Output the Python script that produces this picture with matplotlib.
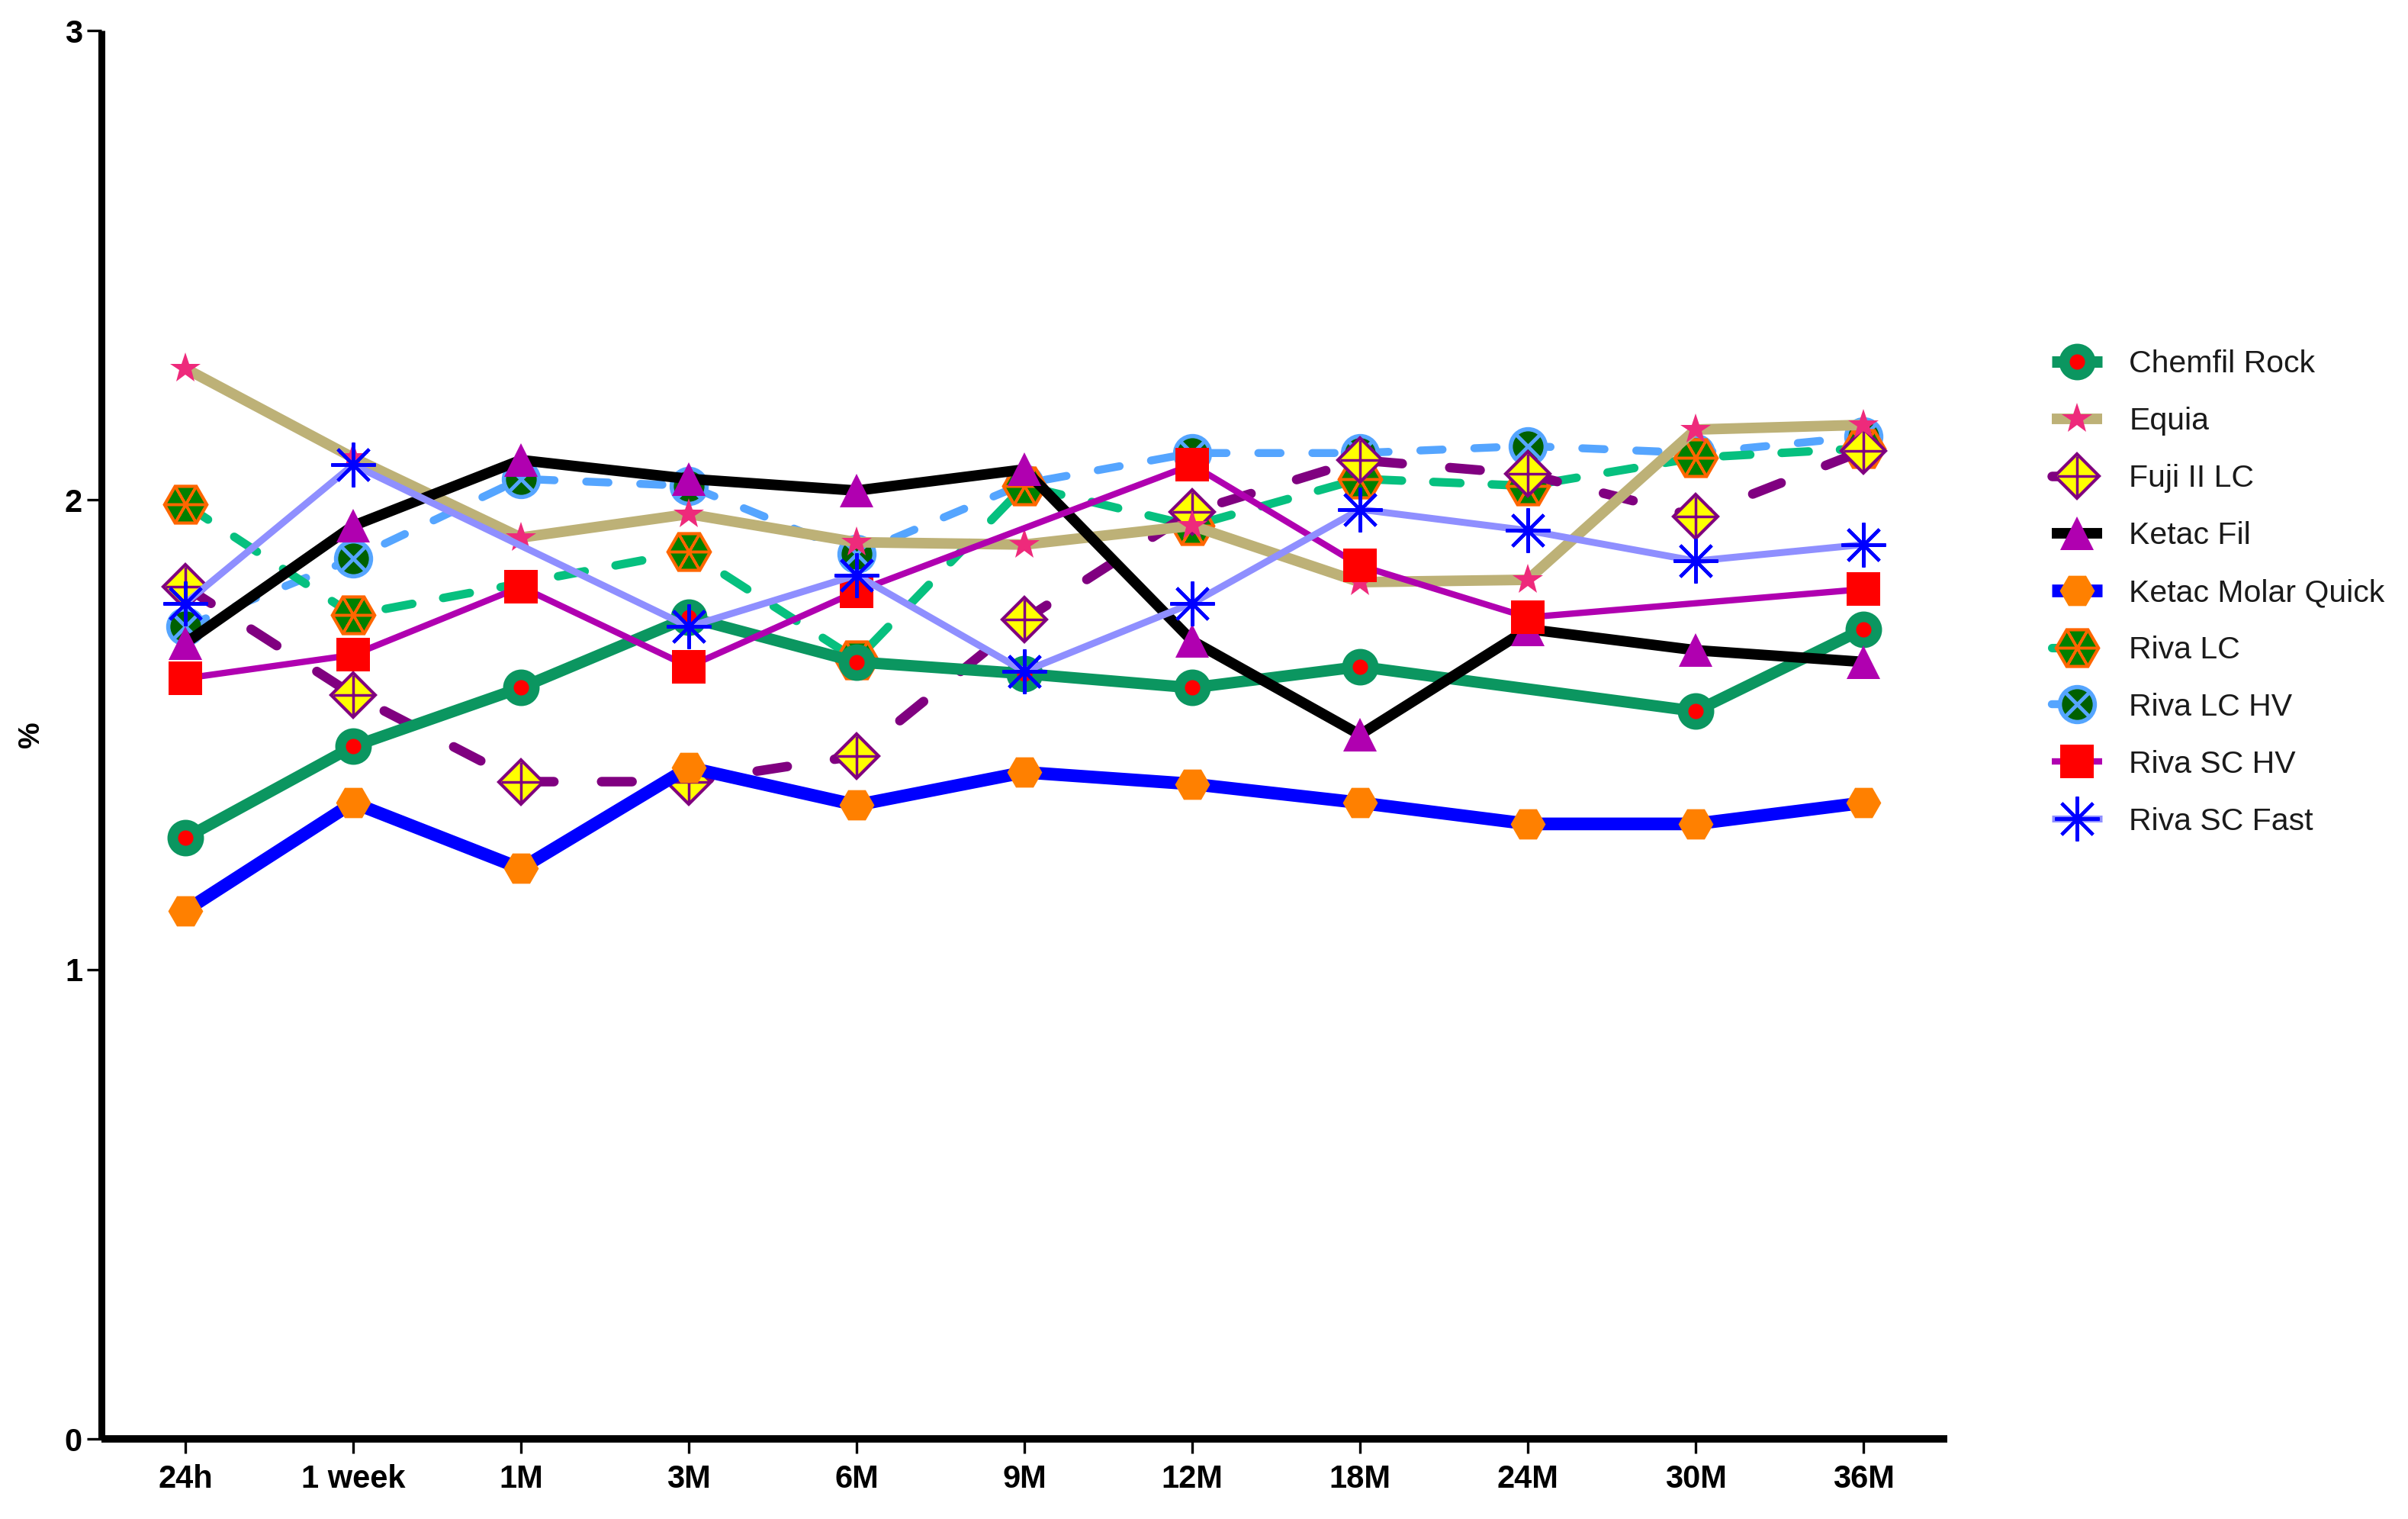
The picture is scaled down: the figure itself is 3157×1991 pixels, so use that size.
import numpy as np
import matplotlib
matplotlib.use("Agg")
import matplotlib.pyplot as plt
from matplotlib.lines import Line2D
from matplotlib.legend_handler import HandlerTuple

plt.rcParams['font.family'] = ['Liberation Sans', 'DejaVu Sans']

nan = np.nan

# ---------------- data ----------------
time_labels = ['24h', '1 week', '1M', '3M', '6M', '9M', '12M', '18M', '24M', '30M', '36M']

chemfil_rock = [1.28, 1.475, 1.60, 1.75, 1.655, 1.63, 1.60, 1.645, nan, 1.55, 1.725]
equia = [2.28, 2.09, 1.92, 1.97, 1.91, 1.905, 1.945, 1.825, 1.83, 2.15, 2.16]
fuji_ii_lc = [1.815, 1.585, 1.40, 1.40, 1.455, 1.745, 1.975, 2.085, 2.055, 1.965, 2.105]
ketac_fil = [1.695, 1.945, 2.085, 2.045, 2.02, 2.065, 1.70, 1.50, 1.725, 1.68, 1.655]
ketac_molar_quick = [1.125, 1.355, 1.215, 1.43, 1.35, 1.42, 1.395, 1.355, 1.31, 1.31, 1.355]
riva_lc = [1.99, 1.755, nan, 1.89, 1.66, 2.03, 1.945, 2.045, 2.03, 2.09, 2.11]
riva_lc_hv = [1.73, 1.875, 2.045, 2.03, 1.885, 2.035, 2.10, 2.10, 2.115, 2.10, 2.135]
riva_sc_hv = [1.62, 1.67, 1.815, 1.645, 1.805, nan, 2.075, 1.86, 1.75, nan, 1.81]
riva_sc_fast = [1.78, 2.075, nan, 1.73, 1.84, 1.635, 1.78, 1.98, 1.935, 1.87, 1.905]

series_names = ['Chemfil Rock', 'Equia', 'Fuji II LC', 'Ketac Fil', 'Ketac Molar Quick',
                'Riva LC', 'Riva LC HV', 'Riva SC HV', 'Riva SC Fast']
series_values = [chemfil_rock, equia, fuji_ii_lc, ketac_fil, ketac_molar_quick,
                 riva_lc, riva_lc_hv, riva_sc_hv, riva_sc_fast]

# ---------------- styles ----------------
styles = {
    'Chemfil Rock': dict(
        line=dict(color='#0b9660', lw=10.8, solid_capstyle='butt'),
        markers=[dict(marker='o', ms=24.5, mfc='#ff0000', mec='#0b9660', mew=10)],
        z=4),
    'Equia': dict(
        line=dict(color='#bdb177', lw=10, solid_capstyle='butt'),
        markers=[dict(marker='*', ms=30, mfc='#ee2a7b', mec='#ee2a7b', mew=0)],
        z=5),
    'Fuji II LC': dict(
        line=dict(color='#800080', lw=9, linestyle=(0, (3.2, 5.0)), dash_capstyle='round'),
        markers=[dict(marker='D', ms=30, mfc='#ffff00', mec='#800080', mew=3),
                 dict(marker='+', ms=38, mfc='none', mec='#800080', mew=2.5)],
        z=3),
    'Ketac Fil': dict(
        line=dict(color='#000000', lw=10, solid_capstyle='butt'),
        markers=[dict(marker='^', ms=31, mfc='#b000b0', mec='#b000b0', mew=0)],
        z=6),
    'Ketac Molar Quick': dict(
        line=dict(color='#0000ff', lw=12, solid_capstyle='butt'),
        markers=[dict(marker='H', ms=33, mfc='#ff8000', mec='#ff8000', mew=0)],
        z=7),
    'Riva LC': dict(
        line=dict(color='#06c07f', lw=8, linestyle=(0, (3.2, 3.7)), dash_capstyle='round'),
        markers=[dict(marker='H', ms=40, mfc='#008000', mec='#ff6600', mew=3),
                 dict(marker=(6, 2, 30), ms=40, mfc='none', mec='#ff6600', mew=2.5)],
        z=2),
    'Riva LC HV': dict(
        line=dict(color='#55a5ff', lw=7.5, linestyle=(0, (2.8, 4.0)), dash_capstyle='round'),
        markers=[dict(marker='o', ms=33, mfc='#006000', mec='#55a5ff', mew=4),
                 dict(marker='x', ms=23, mfc='none', mec='#55a5ff', mew=3.5)],
        z=1),
    'Riva SC HV': dict(
        line=dict(color='#b000b0', lw=6, solid_capstyle='butt'),
        markers=[dict(marker='s', ms=31, mfc='#ff0000', mec='#ff0000', mew=0)],
        z=8),
    'Riva SC Fast': dict(
        line=dict(color='#8f8fff', lw=6.5, solid_capstyle='butt'),
        markers=[dict(marker=(8, 2, 0), ms=42, mfc='#0000ff', mec='#0000ff', mew=3)],
        z=9),
}

# ---------------- figure ----------------
W, H = 3157, 1991
fig = plt.figure(figsize=(W / 100, H / 100), dpi=100)
left, right, bottom, top = 133 / W, 2553 / W, 1 - 1886 / H, 1 - 40 / H
ax = fig.add_axes([left, bottom, right - left, top - bottom])

x = np.arange(len(time_labels))
legend_handles = []
for name, vals in zip(series_names, series_values):
    st = styles[name]
    y = np.array(vals, dtype=float)
    m = ~np.isnan(y)
    z = st['z'] * 2
    ax.plot(x[m], y[m], zorder=z, **st['line'])
    parts = [Line2D([0], [0], **st['line'])]
    for i, mk in enumerate(st['markers']):
        ax.plot(x[m], y[m], linestyle='none', zorder=z + 0.2 * (i + 1), clip_on=False, **mk)
        parts.append(Line2D([0], [0], linestyle='none', **mk))
    legend_handles.append(tuple(parts))

ax.set_xlim(-0.5, len(time_labels) - 0.5)
ax.set_ylim(0, 3)
ax.set_yticks([0, 1, 2, 3])
ax.set_xticks(x)
ax.set_xticklabels(time_labels)

for s in ['top', 'right']:
    ax.spines[s].set_visible(False)
ax.spines['left'].set_linewidth(6.5)
ax.spines['bottom'].set_linewidth(7)
ax.spines['left'].set_capstyle('butt')
ax.spines['bottom'].set_capstyle('butt')

ax.tick_params(axis='x', direction='out', length=14, width=2.4, pad=10,
               labelsize=30)
ax.tick_params(axis='y', direction='out', length=14, width=2.4, pad=4,
               labelsize=30)
for lab in ax.get_xticklabels() + ax.get_yticklabels():
    lab.set_fontweight('bold')

fig.text(41 / W, 1 - 963 / H, '%', rotation=90, ha='center', va='center',
         fontsize=28, fontweight='bold')

fig.legend(legend_handles, series_names, loc='center left',
           bbox_to_anchor=(2690 / W, 1 - 777 / H), frameon=False,
           fontsize=29.5, handlelength=1.62, handletextpad=0.85,
           labelspacing=0.9, borderpad=0, borderaxespad=0,
           labelcolor='#1a1a1a',
           handler_map={tuple: HandlerTuple(ndivide=1, pad=0)})

fig.savefig('out.png', dpi=100)
